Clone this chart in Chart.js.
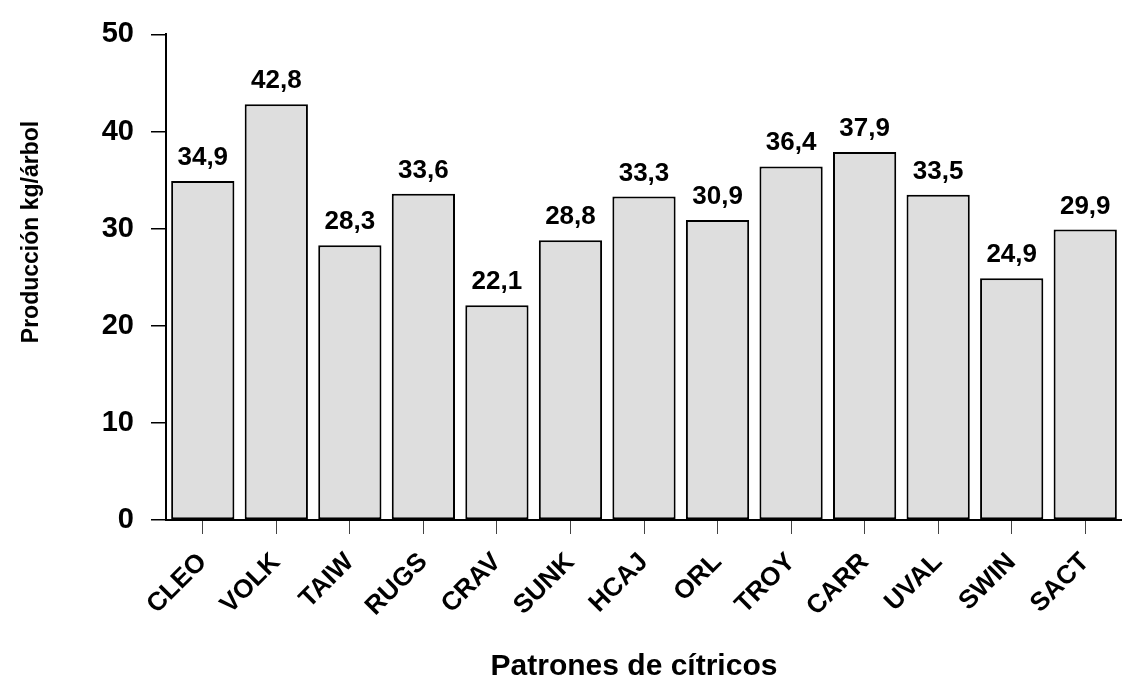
<!DOCTYPE html>
<html>
<head>
<meta charset="utf-8">
<script src="https://cdn.jsdelivr.net/npm/chart.js@4"></script>
<style>
  html, body { margin: 0; padding: 0; background: #fff; }
  #wrap { width: 1122px; height: 679px; }
</style>
</head>
<body>
<div id="wrap"><canvas id="chart" width="1122" height="679"></canvas></div>
<script>
const patrones = ['CLEO', 'VOLK', 'TAIW', 'RUGS', 'CRAV', 'SUNK', 'HCAJ', 'ORL', 'TROY', 'CARR', 'UVAL', 'SWIN', 'SACT'];
const produccion = [34.9, 42.8, 28.3, 33.6, 22.1, 28.8, 33.3, 30.9, 36.4, 37.9, 33.5, 24.9, 29.9];
const yTicks = [0, 10, 20, 30, 40, 50];

const FONT = "'Liberation Sans', Arial, sans-serif";

// value labels above bars + axis titles
const labelsPlugin = {
  id: 'barLabels',
  afterDatasetsDraw(chart) {
    const ctx = chart.ctx;
    const meta = chart.getDatasetMeta(0);
    ctx.save();
    ctx.fillStyle = '#000';
    ctx.font = 'bold 26px ' + FONT;
    ctx.textAlign = 'center';
    ctx.textBaseline = 'alphabetic';
    meta.data.forEach((bar, i) => {
      const txt = produccion[i].toFixed(1).replace('.', ',');
      ctx.fillText(txt, bar.x, bar.y - 16);
    });

    ctx.font = 'bold 30px ' + FONT;
    ctx.fillText('Patrones de cítricos', 634, 675);

    ctx.translate(38, 232);
    ctx.rotate(-Math.PI / 2);
    ctx.font = 'bold 23px ' + FONT;
    ctx.fillText('Producción kg/árbol', 0, 0);
    ctx.restore();
  }
};

new Chart(document.getElementById('chart').getContext('2d'), {
  type: 'bar',
  data: {
    labels: patrones,
    datasets: [{
      data: produccion,
      backgroundColor: '#dedede',
      borderColor: '#000',
      borderWidth: 2,
      borderSkipped: false,
      barPercentage: 0.86,
      categoryPercentage: 1
    }]
  },
  options: {
    responsive: false,
    animation: false,
    layout: { padding: { top: 27, right: 0, left: 0, bottom: 0 } },
    plugins: { legend: { display: false }, tooltip: { enabled: false } },
    scales: {
      x: {
        afterFit(scale) { scale.height = 159; },
        grid: { offset: false, drawOnChartArea: false, tickLength: 14, color: '#444', lineWidth: 1 },
        border: { color: '#000', width: 2 },
        ticks: {
          color: '#000',
          font: { family: FONT, size: 26, weight: 'bold' },
          maxRotation: 45,
          minRotation: 45,
          padding: 13,
          autoSkip: false
        }
      },
      y: {
        min: 0,
        max: 50,
        afterFit(scale) { scale.width = 166; },
        afterBuildTicks(scale) { scale.ticks = yTicks.map(v => ({ value: v })); },
        grid: { drawOnChartArea: false, tickLength: 15, color: '#000', lineWidth: 1.5 },
        border: { color: '#000', width: 2 },
        ticks: {
          color: '#000',
          font: { family: FONT, size: 29, weight: 'bold' },
          padding: 17
        }
      }
    }
  },
  plugins: [labelsPlugin]
});
</script>
</body>
</html>
